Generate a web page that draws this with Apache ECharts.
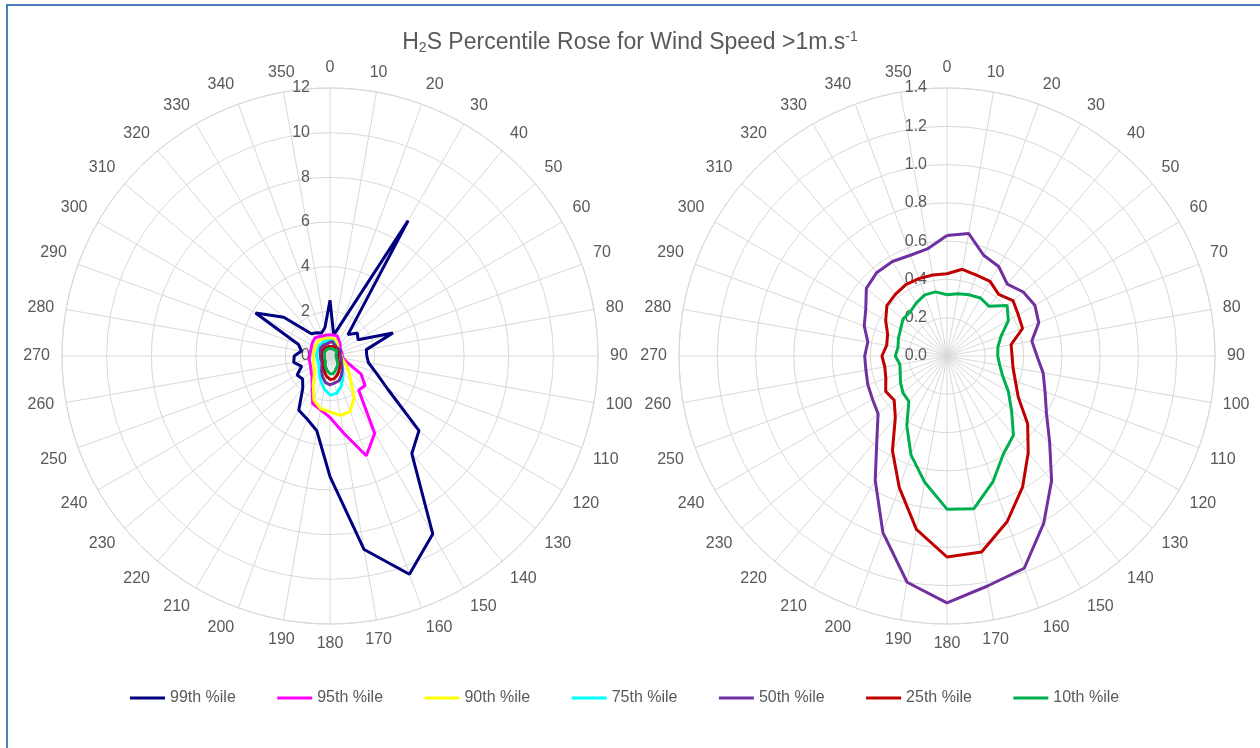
<!DOCTYPE html>
<html>
<head>
<meta charset="utf-8">
<script src="https://cdn.jsdelivr.net/npm/echarts@6/dist/echarts.min.js"></script>
<style>html,body{margin:0;padding:0;background:#fff;}#c{width:1260px;height:748px;}</style>
</head>
<body>
<div id="c"></div>
<script>
// Wind directions (degrees)
const directions = [0,10,20,30,40,50,60,70,80,90,100,110,120,130,140,150,160,170,180,190,200,210,220,230,240,250,260,270,280,290,300,310,320,330,340,350];
const seriesNames = ['99th %ile','95th %ile','90th %ile','75th %ile','50th %ile','25th %ile','10th %ile'];
// H2S concentration percentiles by direction
const p99 = [2.5,0.95,1.65,7.0,1.25,1.6,1.45,3.0,1.65,1.65,1.75,2.2,3.0,5.2,5.7,9.2,10.4,8.8,5.4,3.4,3.0,2.8,1.9,1.6,1.7,1.35,1.65,1.6,1.3,1.5,3.85,2.7,1.3,1.2,1.1,1.3];
const p95 = [0.95,0.95,0.95,0.8,0.7,0.6,0.55,0.55,0.55,0.55,0.6,0.8,1.6,2.05,2.0,4.0,4.75,3.5,2.75,2.45,2.27,1.6,1.25,1.1,1.0,0.95,0.95,0.9,0.9,0.9,0.95,1.0,1.05,1.0,0.95,0.95];
const p90 = [0.8,0.8,0.75,0.65,0.55,0.5,0.5,0.5,0.5,0.5,0.55,0.65,0.85,1.1,1.45,2.15,2.65,2.7,2.5,2.4,2.1,1.5,1.1,0.9,0.85,0.8,0.75,0.75,0.75,0.75,0.8,0.8,0.85,0.85,0.8,0.8];
const p75 = [0.68,0.68,0.6,0.5,0.45,0.42,0.4,0.38,0.36,0.36,0.4,0.45,0.55,0.7,0.9,1.15,1.45,1.7,1.75,1.5,1.2,0.95,0.75,0.65,0.6,0.58,0.58,0.6,0.6,0.6,0.62,0.65,0.68,0.7,0.7,0.68];
const p50 = [0.63,0.65,0.56,0.54,0.49,0.52,0.53,0.51,0.45,0.47,0.51,0.545,0.60,0.70,0.85,1.01,1.18,1.22,1.29,1.20,0.98,0.75,0.57,0.47,0.45,0.44,0.43,0.43,0.42,0.46,0.49,0.55,0.57,0.57,0.56,0.57];
const p25 = [0.43,0.46,0.45,0.45,0.42,0.45,0.43,0.42,0.34,0.34,0.35,0.38,0.43,0.55,0.66,0.79,0.92,1.04,1.05,0.92,0.73,0.57,0.42,0.36,0.37,0.34,0.33,0.34,0.32,0.33,0.37,0.41,0.42,0.43,0.43,0.43];
const p10 = [0.32,0.33,0.34,0.35,0.34,0.41,0.37,0.30,0.27,0.265,0.28,0.31,0.37,0.44,0.54,0.59,0.70,0.81,0.80,0.67,0.55,0.42,0.31,0.30,0.28,0.26,0.25,0.27,0.26,0.27,0.28,0.30,0.30,0.32,0.34,0.34];
const colors = ['#000080','#ff00ff','#ffff00','#00ffff','#7030a0','#c00000','#00b050'];
const leftMax = 12, leftStep = 2;
const rightMax = 1.4, rightStep = 0.2;

const allData = [p99,p95,p90,p75,p50,p25,p10];
function loop(vals){
  const d = directions.map((a,i)=>[vals[i], a]);
  d.push([vals[0], 360]);
  return d;
}
const FONT = 'Liberation Sans, Arial, sans-serif';
const gridColor = '#d9d9d9';
const labelColor = '#595959';

function angleAxis(idx){
  return {
    polarIndex: idx, type:'value', min:0, max:360, interval:10, startAngle:90, clockwise:true,
    axisLine:{show:true, lineStyle:{color:gridColor, width:1}},
    axisTick:{show:false},
    splitLine:{show:true, lineStyle:{color:gridColor, width:1}},
    axisLabel:{show:true, margin:12, color:labelColor, fontSize:16, fontFamily:FONT,
      formatter:(v)=> v===360 ? '' : String(v)}
  };
}
function radiusAxis(idx, max, step, dec){
  return {
    polarIndex: idx, type:'value', min:0, max:max, interval:step,
    axisLine:{show:false}, axisTick:{show:false},
    splitLine:{show:true, lineStyle:{color:gridColor, width:1}},
    axisLabel:{show:true, color:labelColor, fontSize:16, fontFamily:FONT, margin:20,
      formatter:(v)=> v.toFixed(dec)}
  };
}
const series = [];
allData.forEach((vals,i)=>{
  series.push({name:seriesNames[i], type:'line', coordinateSystem:'polar', polarIndex:0,
    data:loop(vals), symbol:'none', smooth:false, color:colors[i],
    lineStyle:{color:colors[i], width:3}, z: 2+i, animation:false});
});
[4,5,6].forEach(i=>{
  series.push({name:seriesNames[i], type:'line', coordinateSystem:'polar', polarIndex:1,
    data:loop(allData[i]), symbol:'none', smooth:false, color:colors[i],
    lineStyle:{color:colors[i], width:3}, z: 2+i, animation:false});
});

const chart = echarts.init(document.getElementById('c'), null, {renderer:'canvas'});
chart.setOption({
  animation:false,
  backgroundColor:'#ffffff',
  title:{
    text:'H{sub|2}S Percentile Rose for Wind Speed >1m.s{sup|-1}',
    left:'center', top:25,
    textStyle:{fontSize:23, fontWeight:'normal', color:labelColor, fontFamily:FONT,
      rich:{
        sub:{fontSize:14, color:labelColor, fontFamily:FONT, verticalAlign:'bottom', padding:[11,0,0,0]},
        sup:{fontSize:14, color:labelColor, fontFamily:FONT, verticalAlign:'top', padding:[0,0,11,0]}
      }}
  },
  legend:{
    data:seriesNames, left:130, top:690, itemWidth:35, itemHeight:3, itemGap:41.4, icon:'rect',
    textStyle:{fontSize:16, color:labelColor, fontFamily:FONT}, padding:0
  },
  polar:[{center:[330,356], radius:268},{center:[947,356], radius:268}],
  angleAxis:[angleAxis(0), angleAxis(1)],
  radiusAxis:[radiusAxis(0,leftMax,leftStep,0), radiusAxis(1,rightMax,rightStep,1)],
  graphic:[{type:'rect', shape:{x:7, y:5, width:1300, height:800}, style:{fill:'none', stroke:'#4a7ebb', lineWidth:2}, silent:true}],
  series:series
});
</script>
</body>
</html>
